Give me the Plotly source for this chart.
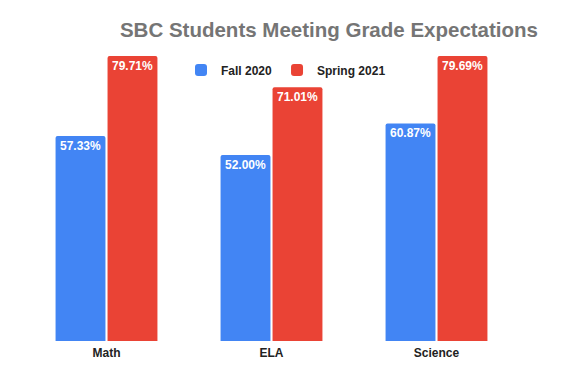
import plotly.graph_objects as go

categories = ["Math", "ELA", "Science"]
fall_2020 = [57.33, 52.00, 60.87]
spring_2021 = [79.71, 71.01, 79.69]
series_names = ["Fall 2020", "Spring 2021"]
colors = ["#4285F4", "#EA4335"]

fig = go.Figure()
for name, vals, col in zip(series_names, [fall_2020, spring_2021], colors):
    fig.add_trace(go.Bar(
        x=categories, y=vals, name=name,
        marker=dict(color=col, line=dict(width=0), cornerradius=2),
        text=[f"{v:.2f}%" for v in vals],
        textposition="inside", insidetextanchor="end",
        textangle=0,
        textfont=dict(color="white", size=12, family="Liberation Sans, Arial", weight="bold"),
        cliponaxis=False,
    ))

# page body has an 8px margin; offsets below compensate for it
fig.update_layout(
    width=562, height=380,
    paper_bgcolor="white", plot_bgcolor="white",
    margin=dict(l=16, r=51, t=47, b=47, autoexpand=False),
    barmode="group", bargap=0.37, bargroupgap=0.04,
    uniformtext=dict(minsize=12, mode="show"),
    font=dict(family="Liberation Sans, Arial", size=12, color="#222222"),
    title=dict(
        text="<b>SBC Students Meeting Grade Expectations</b>",
        font=dict(size=20.5, color="#757575", family="Liberation Sans, Arial"),
        xref="container", yref="container",
        x=530/562, xanchor="right", y=1 - 22/380, yanchor="middle",
    ),
    legend=dict(
        orientation="h", xref="container", yref="container",
        x=173/562, xanchor="left", y=1 - 62/380, yanchor="middle",
        font=dict(size=12, color="#222222", family="Liberation Sans, Arial", weight="bold"),
        bgcolor="rgba(0,0,0,0)", itemclick=False,
    ),
    xaxis=dict(
        showgrid=False, zeroline=False, showline=False, ticks="",
        ticklabelstandoff=3,
        tickfont=dict(size=12, color="#222222", family="Liberation Sans, Arial", weight="bold"),
    ),
    yaxis=dict(range=[0, 80], visible=False, showgrid=False),
)

fig.write_html("out.html")
